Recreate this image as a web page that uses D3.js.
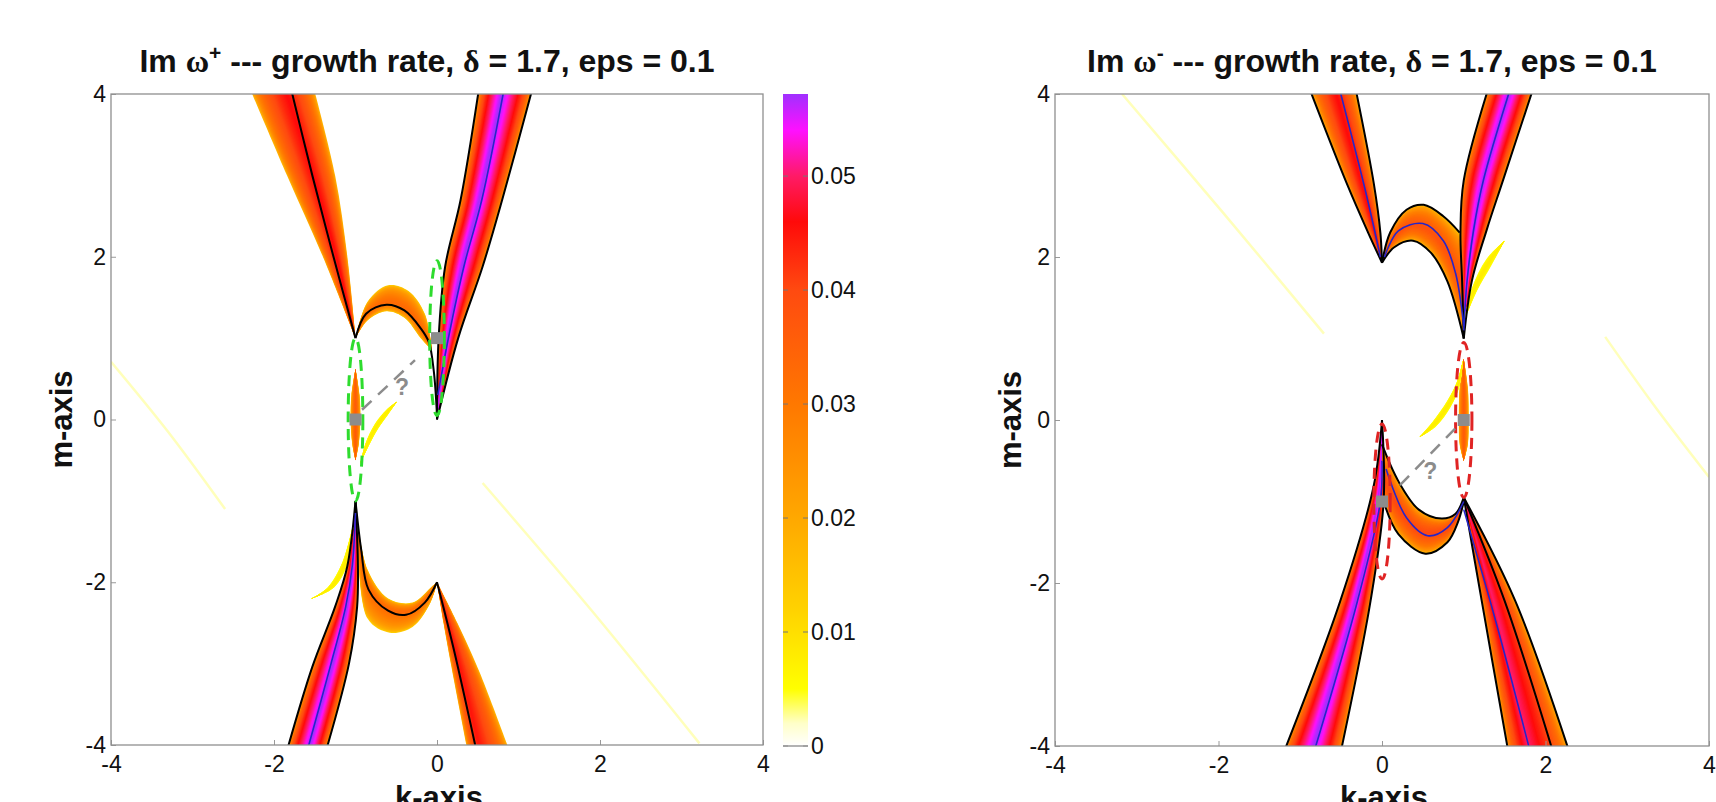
<!DOCTYPE html>
<html>
<head>
<meta charset="utf-8">
<script src="https://cdn.jsdelivr.net/npm/d3@7"></script>
<style>
body { margin: 0; background: #fff; }
svg text { font-family: "Liberation Sans", Arial, sans-serif; }
</style>
</head>
<body>
<div id="chart"></div>
<script>
// ---- ticks & colour map ----
var kTicks = [-4, -2, 0, 2, 4];
var mTicks = [-4, -2, 0, 2, 4];
var cbTicks = [0, 0.01, 0.02, 0.03, 0.04, 0.05];
var cbMax = 0.0572;
var colorStops = [0, 0.002, 0.005, 0.012, 0.02, 0.03, 0.04, 0.046, 0.05, 0.054, 0.0572];
var colorHex = ["#ffffff", "#ffffc8", "#ffff00", "#ffd200", "#ffa800", "#ff7800", "#ff4a10", "#ff0a0a", "#ff1a66", "#ff10ff", "#a030ff"];

// ---- Im w+ panel: instability bands, edges a/b as [k,m] ----
var plusUL_a = [[-1, 1], [-1.4, 2], [-1.84, 3], [-2.31, 4.1]];
var plusUL_b = [[-1, 1], [-1.1, 2], [-1.25, 3], [-1.52, 4.1]];
var plusUR_a = [[0, 0], [0.02, 1], [0.1, 1.88], [0.29, 2.7], [0.52, 4.1]];
var plusUR_b = [[0, 0], [0.26, 1], [0.56, 1.88], [0.8, 2.7], [1.18, 4.1]];
var plusArch_a = [[-1, 1], [-0.85, 1.45], [-0.6, 1.65], [-0.35, 1.58], [-0.15, 1.3], [-0.06, 0.85]];
var plusArch_b = [[-1, 1], [-0.85, 1.22], [-0.62, 1.33], [-0.4, 1.25], [-0.2, 1.0], [-0.06, 0.85]];
var plusBlob_a = [[-1, 0.62], [-1.05, 0.3], [-1.06, 0], [-1.04, -0.3], [-1, -0.5]];
var plusBlob_b = [[-1, 0.62], [-0.95, 0.3], [-0.94, 0], [-0.96, -0.3], [-1, -0.5]];
var plusCres_a = [[-0.94, -0.54], [-0.88, -0.3], [-0.76, -0.05], [-0.62, 0.12], [-0.49, 0.22]];
var plusCres_b = [[-0.94, -0.54], [-0.84, -0.33], [-0.72, -0.11], [-0.6, 0.06], [-0.49, 0.22]];
var plusLL_a = [[-1, -1], [-1.1, -1.8], [-1.25, -2.3], [-1.53, -3.04], [-1.85, -4.1]];
var plusLL_b = [[-1, -1], [-0.97, -1.8], [-0.98, -2.3], [-1.08, -3.0], [-1.37, -4.1]];
var plusArchLow_a = [[-0.97, -1.3], [-0.85, -1.85], [-0.6, -2.2], [-0.3, -2.25], [-0.06, -2.05], [0, -2]];
var plusArchLow_b = [[-0.97, -1.3], [-0.85, -2.45], [-0.58, -2.62], [-0.3, -2.55], [-0.08, -2.25], [0, -2]];
var plusLR_a = [[0, -2], [0.08, -2.5], [0.17, -3], [0.38, -4.1]];
var plusLR_b = [[0, -2], [0.25, -2.5], [0.52, -3.1], [0.9, -4.1]];
var plusCresLow_a = [[-1.02, -1.25], [-1.16, -1.75], [-1.34, -2.06], [-1.54, -2.2]];
var plusCresLow_b = [[-1.02, -1.25], [-1.1, -1.78], [-1.26, -2.06], [-1.54, -2.2]];
// crest position (0 = edge a, 1 = edge b) and peak growth rate
var plusCrest = [0.55, 0.45, 0.65, 0.5, 0.5, 0.55, 0.3, 0.3, 0.5];
var plusPeak = [0.046, 0.057, 0.033, 0.036, 0.008, 0.057, 0.033, 0.045, 0.008];

var plusFaint = [
  [[-4, 0.71], [-3.3, -0.15], [-2.6, -1.1]],
  [[0.56, -0.78], [1.9, -2.35], [3.22, -3.98]]
];
var plusBlack = [
  [[-1, 1], [-1.27, 2], [-1.53, 3], [-1.8, 4.1]],
  [[-1, 1], [-0.87, 1.3], [-0.62, 1.41], [-0.4, 1.34], [-0.2, 1.12], [-0.1, 0.95], [-0.04, 0.6], [0, 0.05]],
  plusUR_a, plusUR_b, plusLL_a, plusLL_b,
  [[-1, -1], [-0.93, -1.6], [-0.84, -2.09], [-0.6, -2.35], [-0.38, -2.4], [-0.15, -2.25], [0, -2]],
  [[0, -2], [0.2, -2.8], [0.49, -4.1]]
];
var plusBlue = [
  [[0.01, 0.3], [0.14, 1], [0.33, 1.88], [0.55, 2.7], [0.83, 4.1]],
  [[-1, -1.15], [-1.04, -1.8], [-1.12, -2.3], [-1.3, -3.0], [-1.6, -4.1]]
];
var plusEllipses = [[-1, 0, 0.09, 1.0], [0, 1, 0.09, 0.95]];
var plusSquares = [[-1, 0], [0, 1]];
var plusGuess = [[-0.92, 0.12], [-0.27, 0.73]];
var plusMark = [-0.43, 0.4];

// ---- Im w- panel ----
var minusUL_a = [[0, 1.93], [-0.17, 2.3], [-0.43, 2.9], [-0.9, 4.1]];
var minusUL_b = [[0, 1.93], [-0.02, 2.3], [-0.1, 2.9], [-0.33, 4.1]];
var minusUR_a = [[1, 1], [0.98, 1.7], [0.96, 2.3], [1.0, 2.94], [1.31, 4.1]];
var minusUR_b = [[1, 1], [1.1, 1.71], [1.28, 2.33], [1.48, 2.94], [1.86, 4.1]];
var minusArch_a = [[0, 1.93], [0.1, 2.3], [0.3, 2.58], [0.51, 2.64], [0.75, 2.5], [0.95, 2.3]];
var minusArch_b = [[0, 1.93], [0.15, 2.12], [0.38, 2.2], [0.6, 2.05], [0.8, 1.7], [1, 1]];
var minusBlob_a = [[1, 0.75], [0.95, 0.4], [0.94, 0], [0.95, -0.3], [1, -0.5]];
var minusBlob_b = [[1, 0.75], [1.05, 0.4], [1.06, 0], [1.05, -0.3], [1, -0.5]];
var minusCres_a = [[0.46, -0.21], [0.62, -0.02], [0.8, 0.24], [0.92, 0.48], [0.99, 0.73]];
var minusCres_b = [[0.46, -0.21], [0.66, -0.08], [0.84, 0.16], [0.95, 0.42], [0.99, 0.73]];
var minusCresR_a = [[1.0, 1.2], [1.1, 1.62], [1.28, 1.98], [1.5, 2.2]];
var minusCresR_b = [[1.0, 1.2], [1.16, 1.58], [1.34, 1.9], [1.5, 2.2]];
var minusLL_a = [[0, 0], [-0.1, -0.8], [-0.51, -2.22], [-1.21, -4.1]];
var minusLL_b = [[0, 0], [0.02, -1.0], [-0.14, -2.22], [-0.51, -4.1]];
var minusArchLow_a = [[0, -0.3], [0.2, -0.75], [0.45, -1.1], [0.73, -1.21], [0.9, -1.15], [1, -0.95]];
var minusArchLow_b = [[0.02, -1.0], [0.2, -1.4], [0.53, -1.64], [0.8, -1.5], [0.93, -1.25], [1, -1.0]];
var minusLR_a = [[1, -0.95], [1.22, -2.22], [1.55, -4.1]];
var minusLR_b = [[1, -0.95], [1.63, -2.22], [2.3, -4.1]];
var minusCrest = [0.55, 0.5, 0.5, 0.5, 0.5, 0.5, 0.5, 0.5, 0.35];
var minusPeak = [0.046, 0.057, 0.038, 0.036, 0.008, 0.008, 0.057, 0.04, 0.05];

var minusFaint = [
  [[-3.18, 4], [-1.95, 2.55], [-0.71, 1.06]],
  [[2.73, 1.02], [3.35, 0.15], [4, -0.7]]
];
var minusBlack = [
  minusUL_a, minusUL_b, minusUR_a, minusUR_b, minusArch_a, minusArch_b,
  minusLL_a, minusLL_b, minusArchLow_a, minusArchLow_b, minusLR_a, minusLR_b,
  [[1, -0.95], [1.5, -2.22], [2.1, -4.1]]
];
var minusBlue = [
  [[-0.02, 2.0], [-0.2, 2.8], [-0.53, 4.1]],
  [[1, 1.1], [1.04, 1.7], [1.12, 2.33], [1.24, 2.94], [1.58, 4.1]],
  [[0.03, 2.0], [0.2, 2.32], [0.5, 2.41], [0.75, 2.2], [0.9, 1.8], [1, 1.15]],
  [[0, -0.5], [-0.02, -1], [-0.3, -2.22], [-0.84, -4.1]],
  [[0.05, -0.6], [0.3, -1.2], [0.56, -1.42], [0.8, -1.32], [1, -1.0]],
  [[1, -1.1], [1.4, -2.5], [1.82, -4.1]]
];
var minusEllipses = [[1, 0, 0.1, 0.95], [0, -1, 0.1, 0.95]];
var minusSquares = [[1, 0], [0, -1]];
var minusGuess = [[0.22, -0.8], [0.91, -0.09]];
var minusMark = [0.59, -0.62];

// ---- build panel tables ----
var panels = [
  {
    sup: "+", box: [111, 763, 94, 745], titleX: 427, mLabelX: 72, ellipseColor: "#2edc2e",
    bands: [[plusUL_a, plusUL_b], [plusUR_a, plusUR_b], [plusArch_a, plusArch_b], [plusBlob_a, plusBlob_b],
            [plusCres_a, plusCres_b], [plusLL_a, plusLL_b], [plusArchLow_a, plusArchLow_b], [plusLR_a, plusLR_b],
            [plusCresLow_a, plusCresLow_b]],
    crest: plusCrest, peak: plusPeak, faint: plusFaint, black: plusBlack, blue: plusBlue,
    ellipses: plusEllipses, squares: plusSquares, guess: plusGuess, mark: plusMark
  },
  {
    sup: "-", box: [1055, 1709, 94, 746], titleX: 1372, mLabelX: 1021, ellipseColor: "#e02424",
    bands: [[minusUL_a, minusUL_b], [minusUR_a, minusUR_b], [minusArch_a, minusArch_b], [minusBlob_a, minusBlob_b],
            [minusCres_a, minusCres_b], [minusCresR_a, minusCresR_b], [minusLL_a, minusLL_b],
            [minusArchLow_a, minusArchLow_b], [minusLR_a, minusLR_b]],
    crest: minusCrest, peak: minusPeak, faint: minusFaint, black: minusBlack, blue: minusBlue,
    ellipses: minusEllipses, squares: minusSquares, guess: minusGuess, mark: minusMark
  }
];

var color = d3.scaleLinear().domain(colorStops).range(colorHex);

var svg = d3.select("#chart").append("svg")
  .attr("width", 1716)
  .attr("height", 802);

function lerp(p, q, t) { return [p[0] + (q[0] - p[0]) * t, p[1] + (q[1] - p[1]) * t]; }

panels.forEach(function(p, pi) {
  var x = d3.scaleLinear().domain([-4, 4]).range([p.box[0], p.box[1]]);
  var y = d3.scaleLinear().domain([-4, 4]).range([p.box[3], p.box[2]]);
  var line = d3.line().x(function(d) { return x(d[0]); }).y(function(d) { return y(d[1]); })
    .curve(d3.curveCatmullRom.alpha(0.5));

  svg.append("clipPath").attr("id", "clip" + pi)
    .append("rect")
      .attr("x", p.box[0]).attr("y", p.box[2])
      .attr("width", p.box[1] - p.box[0]).attr("height", p.box[3] - p.box[2]);

  var g = svg.append("g").attr("clip-path", "url(#clip" + pi + ")");

  // faint yellow ridges
  g.selectAll(".faint").data(p.faint).enter().append("path")
    .attr("d", line)
    .attr("fill", "none")
    .attr("stroke", color(0.0022))
    .attr("stroke-width", 2.5);

  // shaded bands: nested strips from the edges towards the crest
  var N = 26;
  p.bands.forEach(function(b, bi) {
    var crestPts = b[0].map(function(pt, i) { return lerp(pt, b[1][i], p.crest[bi]); });
    for (var j = 0; j < N; j++) {
      var t = j / N;
      var A = b[0].map(function(pt, i) { return lerp(pt, crestPts[i], t); });
      var B = b[1].map(function(pt, i) { return lerp(pt, crestPts[i], t); }).reverse();
      var v = p.peak[bi] * Math.pow((j + 1) / N, 0.28);
      g.append("path")
        .attr("d", line(A) + line(B).replace(/^M/, "L") + "Z")
        .attr("fill", color(v));
    }
  });

  g.selectAll(".black").data(p.black).enter().append("path")
    .attr("d", line)
    .attr("fill", "none")
    .attr("stroke", "#000")
    .attr("stroke-width", 2);

  g.selectAll(".blue").data(p.blue).enter().append("path")
    .attr("d", line)
    .attr("fill", "none")
    .attr("stroke", "#2626c8")
    .attr("stroke-width", 1.6);

  // dashed ellipses
  g.selectAll(".ell").data(p.ellipses).enter().append("ellipse")
    .attr("cx", function(d) { return x(d[0]); })
    .attr("cy", function(d) { return y(d[1]); })
    .attr("rx", function(d) { return x(d[0] + d[2]) - x(d[0]); })
    .attr("ry", function(d) { return y(d[1] - d[3]) - y(d[1]); })
    .attr("fill", "none")
    .attr("stroke", p.ellipseColor)
    .attr("stroke-width", 3)
    .attr("stroke-dasharray", "11,7");

  g.append("path")
    .attr("d", d3.line().x(function(d) { return x(d[0]); }).y(function(d) { return y(d[1]); })(p.guess))
    .attr("stroke", "#8c8c8c")
    .attr("stroke-width", 2.5)
    .attr("stroke-dasharray", "13,9")
    .attr("fill", "none");

  g.append("text")
    .attr("x", x(p.mark[0]))
    .attr("y", y(p.mark[1]))
    .attr("text-anchor", "middle")
    .attr("dy", "0.35em")
    .style("font-size", "23px")
    .style("font-weight", "bold")
    .attr("fill", "#8c8c8c")
    .text("?");

  g.selectAll(".sq").data(p.squares).enter().append("rect")
    .attr("x", function(d) { return x(d[0]) - 6; })
    .attr("y", function(d) { return y(d[1]) - 6; })
    .attr("width", 12).attr("height", 12)
    .attr("fill", "#8c8c8c");

  // axes
  var xAxis = svg.append("g")
    .attr("transform", "translate(0," + p.box[3] + ")")
    .call(d3.axisBottom(x).tickValues(kTicks).tickSizeInner(-5).tickSizeOuter(0).tickPadding(11)
      .tickFormat(d3.format("d")));
  var yAxis = svg.append("g")
    .attr("transform", "translate(" + p.box[0] + ",0)")
    .call(d3.axisLeft(y).tickValues(mTicks).tickSizeInner(-5).tickSizeOuter(0).tickPadding(5)
      .tickFormat(d3.format("d")));
  [xAxis, yAxis].forEach(function(a) {
    a.select(".domain").remove();
    a.selectAll("line").attr("stroke", "#999");
    a.selectAll("text").style("font-size", "23px").attr("fill", "#111")
      .text(function(d) { return d < 0 ? "-" + Math.abs(d) : d; });
  });

  svg.append("rect")
    .attr("x", p.box[0]).attr("y", p.box[2])
    .attr("width", p.box[1] - p.box[0]).attr("height", p.box[3] - p.box[2])
    .attr("fill", "none")
    .attr("stroke", "#8f8f8f")
    .attr("stroke-width", 1.3);

  // title
  var title = svg.append("text")
    .attr("x", p.titleX)
    .attr("y", 72)
    .attr("text-anchor", "middle")
    .style("font-size", "32px")
    .style("font-weight", "bold")
    .attr("fill", "#111");
  title.append("tspan").text("Im ");
  title.append("tspan").style("font-family", "'Liberation Serif', serif").text("ω");
  title.append("tspan").attr("dy", -12).style("font-size", "21px").text(p.sup);
  title.append("tspan").attr("dy", 12).text(" --- growth rate, ");
  title.append("tspan").style("font-family", "'Liberation Serif', serif").text("δ");
  title.append("tspan").text(" = 1.7, eps = 0.1");

  svg.append("text")
    .attr("x", (p.box[0] + p.box[1]) / 2 + 2)
    .attr("y", 808)
    .attr("text-anchor", "middle")
    .style("font-size", "31px")
    .style("font-weight", "bold")
    .attr("fill", "#111")
    .text("k-axis");

  svg.append("text")
    .attr("transform", "translate(" + p.mLabelX + "," + ((p.box[2] + p.box[3]) / 2) + ")rotate(-90)")
    .attr("text-anchor", "middle")
    .style("font-size", "31px")
    .style("font-weight", "bold")
    .attr("fill", "#111")
    .text("m-axis");
});

// ---- colour bar ----
var cbY = d3.scaleLinear().domain([0, cbMax]).range([746, 94]);
var grad = svg.append("defs").append("linearGradient")
  .attr("id", "cbgrad")
  .attr("x1", 0).attr("y1", 1).attr("x2", 0).attr("y2", 0);
grad.selectAll("stop").data(colorStops).enter().append("stop")
  .attr("offset", function(d) { return d / cbMax; })
  .attr("stop-color", function(d) { return color(d); });

svg.append("rect")
  .attr("x", 783).attr("y", cbY(cbMax))
  .attr("width", 25).attr("height", cbY(0) - cbY(cbMax))
  .attr("fill", "url(#cbgrad)");

var cb = svg.append("g");
cb.selectAll(".tl").data(cbTicks).enter().append("line")
  .attr("x1", 783).attr("x2", 788)
  .attr("y1", function(d) { return cbY(d); }).attr("y2", function(d) { return cbY(d); })
  .attr("stroke", "#777");
cb.selectAll(".tr").data(cbTicks).enter().append("line")
  .attr("x1", 803).attr("x2", 808)
  .attr("y1", function(d) { return cbY(d); }).attr("y2", function(d) { return cbY(d); })
  .attr("stroke", "#777");
cb.append("line")
  .attr("x1", 783).attr("x2", 808).attr("y1", cbY(0)).attr("y2", cbY(0))
  .attr("stroke", "#999").attr("stroke-width", 1.5);
cb.selectAll(".lab").data(cbTicks).enter().append("text")
  .attr("x", 811)
  .attr("y", function(d) { return cbY(d); })
  .attr("dy", "0.36em")
  .style("font-size", "23px")
  .attr("fill", "#111")
  .text(function(d) { return d === 0 ? "0" : d3.format(".2f")(d); });
</script>
</body>
</html>
